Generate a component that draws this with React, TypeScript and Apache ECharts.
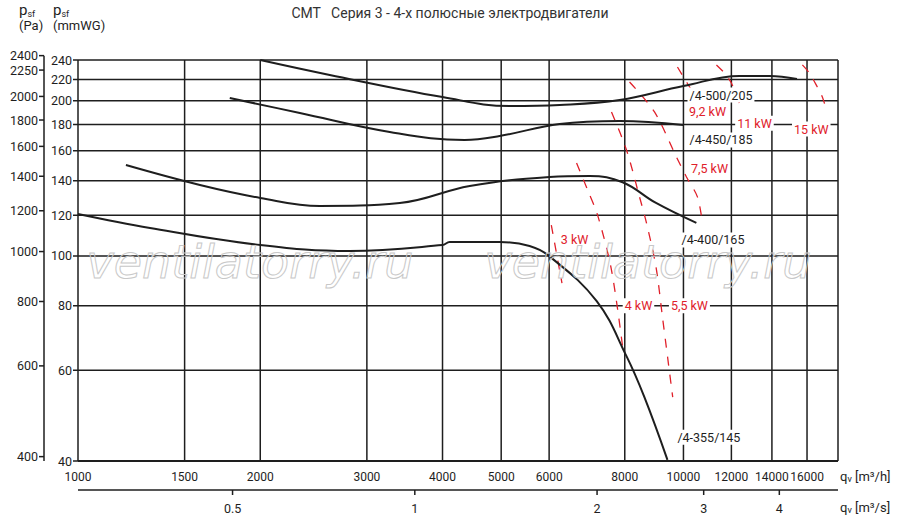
import React, { useEffect, useRef } from "react";
import * as echarts from "echarts";

const xTicks = [1000, 1500, 2000, 3000, 4000, 5000, 6000, 8000, 10000, 12000, 14000, 16000];
const yTicksMmWG = [40, 60, 80, 100, 120, 140, 160, 180, 200, 220, 240];
const yTicksPa = [400, 600, 800, 1000, 1200, 1400, 1600, 1800, 2000, 2250, 2400];
const xTicksM3s = [0.5, 1, 2, 3, 4];

const fan500: number[][] = [[2000, 240], [2605, 224.5], [4000, 203.4], [5163, 195.4], [6245, 196.3], [7844, 200.7], [10000, 213.6], [12375, 223.5], [13870, 223.5], [15400, 220.5]];
const fan450: number[][] = [[1781, 202.5], [2325, 189.4], [3273, 174], [4350, 167.9], [4970, 170.9], [6245, 180.3], [7844, 182.8], [10000, 179.5]];
const fan400: number[][] = [[1200, 150.1], [1590, 137.3], [2000, 129.6], [2508, 125], [3400, 126.7], [4436, 136.7], [6010, 142.3], [7000, 143], [7935, 139], [9009, 126.7], [10504, 115.9]];
const fan355: number[][] = [[1000, 120.6], [1315, 113.3], [2000, 105], [2811, 102.2], [4000, 105], [4110, 106.4], [4970, 106.4], [5570, 104.5], [6010, 99.8], [7190, 81.7], [8052, 63.9], [8620, 53.2], [9410, 40.2]];

const motor3: number[][] = [[6050, 114.8], [6300, 88.6]];
const motor4: number[][] = [[6660, 151.5], [6945, 134.3], [7213, 120.1], [7606, 93.9], [7935, 66.6]];
const motor55: number[][] = [[7606, 190.3], [8052, 160.6], [8461, 130.2], [8688, 115.9], [9009, 95.2], [9233, 76.1], [9600, 53.2]];
const motor75: number[][] = [[8146, 217.5], [8957, 190.3], [9737, 155.6], [10116, 142.3], [10546, 130.2], [10750, 115.9]];
const motor92: number[][] = [[9775, 232.6], [10546, 200.7]];
const motor11: number[][] = [[11337, 234.8], [11684, 226.5], [12000, 216.5], [12490, 192]];
const motor15: number[][] = [[15720, 234.8], [16140, 226.5], [16640, 212.7], [16960, 203.4], [17220, 192]];

const motorLabels: [string, number, number][] = [
  ["9,2 kW", 10956, 190.3], ["11 kW", 13100, 181], ["15 kW", 16260, 176.3], ["7,5 kW", 11040, 148.1],
  ["3 kW", 6610, 107.4], ["4 kW", 8428, 80], ["5,5 kW", 10230, 80],
];
const fanLabels: [string, number, number][] = [
  ["/4-500/205", 10155, 205.2], ["/4-450/185", 10155, 167.9], ["/4-400/165", 9850, 107.4], ["/4-355/145", 9700, 44.5],
];

const FONT = "'Roboto', 'Liberation Sans Narrow', sans-serif";
const INK = "#1e1e1e";
const RED = "#e0202a";

export default function App() {
  const ref = useRef<HTMLDivElement>(null);
  useEffect(() => {
    const chart = echarts.init(ref.current!, null, { renderer: "svg" });
    const txt = (x: number, y: number, text: string, align: string, color = INK, bg = false, size = 12.5) => ({
      type: "text", x, y, silent: true,
      style: { text, fill: color, fontSize: size, fontFamily: FONT, align, verticalAlign: "middle", backgroundColor: bg ? "#fff" : undefined, padding: bg ? [1, 2] : undefined },
    });
    const ln = (x1: number, y1: number, x2: number, y2: number, w = 1.5) => ({
      type: "line", silent: true, shape: { x1, y1, x2, y2 }, style: { stroke: INK, lineWidth: w },
    });
    const gridItem = (_p: any, api: any) => {
      const ch: any[] = [];
      const [x0, yb] = api.coord([1000, 40]);
      const [x1, yt] = api.coord([18000, 240]);
      for (const t of xTicks) {
        const [x] = api.coord([t, 40]);
        ch.push(ln(x, yt, x, yb));
        ch.push(txt(x, yb + 16, String(t), "center", INK, false, 12));
      }
      ch.push(ln(x1, yt, x1, yb));
      for (const t of yTicksMmWG) {
        const [, y] = api.coord([1000, t]);
        ch.push(ln(x0 - 5, y, x1, y));
        ch.push(txt(x0 - 6, y, String(t), "right"));
      }
      ch.push(ln(x0, yb, x1, yb, 2));
      const paX = 44;
      const [, yTop] = api.coord([1000, 2400 / 9.80665]);
      ch.push(ln(paX, yTop, paX, yb));
      for (const p of yTicksPa) {
        const [, y] = api.coord([1000, p / 9.80665]);
        ch.push(ln(paX - 5, y, paX, y));
        ch.push(txt(paX - 6, y, String(p), "right"));
      }
      const sy = yb + 29;
      ch.push(ln(x0, sy, x1, sy));
      for (const s of xTicksM3s) {
        const [x] = api.coord([s * 3600, 40]);
        ch.push(ln(x, sy, x, sy + 5));
        ch.push(txt(x, sy + 18, String(s), "center"));
      }
      return { type: "group", children: ch };
    };
    const labelItem = (_p: any, api: any) => {
      const ch: any[] = [];
      for (const [t, x, y] of motorLabels) {
        const [px, py] = api.coord([x, y]);
        ch.push(txt(px, py, t, "center", RED, true, 12.5));
      }
      for (const [t, x, y] of fanLabels) {
        const [px, py] = api.coord([x, y]);
        ch.push(txt(px, py, t, "left", INK, true, 12.5));
      }
      return { type: "group", children: ch };
    };
    const fan = (d: number[][]) => ({ type: "line", data: d, smooth: 0.4, symbol: "none", lineStyle: { color: INK, width: 2 }, z: 4 });
    const motor = (d: number[][]) => ({ type: "line", data: d, smooth: 0.3, symbol: "none", lineStyle: { color: RED, width: 1.3, type: [9, 9] }, z: 3 });
    const head = (t: string) => ({
      text: "{p|p}{s|sf}\n{u|" + t + "}", fill: INK, fontFamily: FONT,
      rich: {
        p: { fontSize: 15, fontFamily: FONT, lineHeight: 17 },
        s: { fontSize: 9, fontFamily: FONT, lineHeight: 17, verticalAlign: "bottom" },
        u: { fontSize: 13, fontFamily: FONT, lineHeight: 15 },
      },
    });
    const wm = (x: number) => ({ type: "text", x, y: 262, z: 10, style: { text: "ventilatorry.ru", fill: "rgba(0,0,0,0)", stroke: "#c8c8c8", lineWidth: 1, fontSize: 46, fontStyle: "italic", fontFamily: "'DejaVu Sans', sans-serif", align: "center", verticalAlign: "middle" } });
    chart.setOption({
      animation: false,
      grid: { left: 78, right: 62, top: 60, bottom: 57 },
      xAxis: { type: "log", min: 1000, max: 18000, show: false },
      yAxis: { type: "log", min: 40, max: 240, show: false },
      title: {
        text: "CMT   Серия 3 - 4-х полюсные электродвигатели", left: 445, top: 1, textAlign: "center",
        textStyle: { fontFamily: FONT, fontSize: 14, fontWeight: "normal", color: "#333" },
      },
      graphic: [
        { type: "text", left: 19, top: 2, style: head("(Pa)") },
        { type: "text", left: 53, top: 2, style: head("(mmWG)") },
        { type: "text", left: 840, top: 470, style: { text: "q{s|v} [m³/h]", fill: INK, fontFamily: FONT, fontSize: 13, rich: { s: { fontSize: 9, fontFamily: FONT, verticalAlign: "bottom" } } } },
        { type: "text", left: 840, top: 501, style: { text: "q{s|v} [m³/s]", fill: INK, fontFamily: FONT, fontSize: 13, rich: { s: { fontSize: 9, fontFamily: FONT, verticalAlign: "bottom" } } } },
        wm(250), wm(648),
      ],
      series: [
        { type: "custom", renderItem: gridItem, data: [0], z: 1, silent: true },
        motor(motor3), motor(motor4), motor(motor55), motor(motor75), motor(motor92), motor(motor11), motor(motor15),
        fan(fan500), fan(fan450), fan(fan400), fan(fan355),
        { type: "custom", renderItem: labelItem, data: [0], z: 5, silent: true },
      ],
    });
    return () => chart.dispose();
  }, []);
  return <div ref={ref} style={{ width: 900, height: 518, position: "absolute", left: 0, top: 0, background: "#fff" }} />;
}
